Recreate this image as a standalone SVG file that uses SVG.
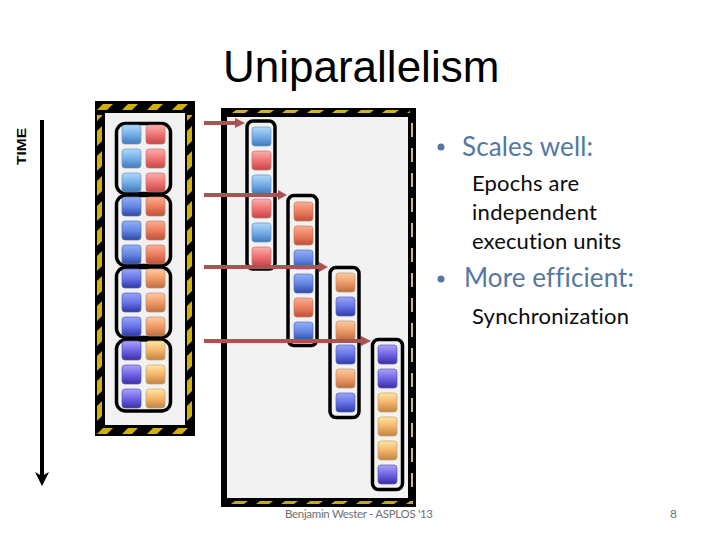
<svg xmlns="http://www.w3.org/2000/svg" width="720" height="540" viewBox="0 0 720 540">
<style>
.t{font-family:Lato,"Open Sans","Liberation Sans",sans-serif;font-variant-ligatures:none}
.l{font-family:"Liberation Sans",Arial,sans-serif}
.b{fill:#54789f;font-size:26px}
.s{fill:#0a0a0a;font-size:22px}
.g{fill:none;stroke:#000;stroke-width:3.500}
.q{stroke-width:.7}
.a{stroke:#ab5252;stroke-width:4;fill:none}
.h{fill:#ab5252}
.b1{fill:url(#b1);stroke:#6a97c6}.b2{fill:url(#b2);stroke:#5470c0}.b3{fill:url(#b3);stroke:#5460c0}.b4{fill:url(#b4);stroke:#5f52b8}
.r1{fill:url(#r1);stroke:#c87070}.r2{fill:url(#r2);stroke:#c87c64}.r3{fill:url(#r3);stroke:#c88c64}.r4{fill:url(#r4);stroke:#c8a064}
</style>
<defs>
<linearGradient id="b1" x2="0" y2="1"><stop offset="0" stop-color="#b0d8f8"/><stop offset=".5" stop-color="#75ade6"/><stop offset="1" stop-color="#4478bc"/></linearGradient>
<linearGradient id="b2" x2="0" y2="1"><stop offset="0" stop-color="#94b0f2"/><stop offset=".5" stop-color="#6487e2"/><stop offset="1" stop-color="#3049a8"/></linearGradient>
<linearGradient id="b3" x2="0" y2="1"><stop offset="0" stop-color="#98a4f6"/><stop offset=".5" stop-color="#6674e8"/><stop offset="1" stop-color="#3038a8"/></linearGradient>
<linearGradient id="b4" x2="0" y2="1"><stop offset="0" stop-color="#aaa4f6"/><stop offset=".5" stop-color="#7064e6"/><stop offset="1" stop-color="#3a2ea6"/></linearGradient>
<linearGradient id="r1" x2="0" y2="1"><stop offset="0" stop-color="#f9b0b0"/><stop offset=".5" stop-color="#f37272"/><stop offset="1" stop-color="#c24848"/></linearGradient>
<linearGradient id="r2" x2="0" y2="1"><stop offset="0" stop-color="#f9b098"/><stop offset=".5" stop-color="#ed7c5c"/><stop offset="1" stop-color="#bc5238"/></linearGradient>
<linearGradient id="r3" x2="0" y2="1"><stop offset="0" stop-color="#fbcca8"/><stop offset=".5" stop-color="#f09a68"/><stop offset="1" stop-color="#bc6e3e"/></linearGradient>
<linearGradient id="r4" x2="0" y2="1"><stop offset="0" stop-color="#fee8a4"/><stop offset=".5" stop-color="#f6b26a"/><stop offset="1" stop-color="#c08642"/></linearGradient>
<pattern id="h1" width="25" height="6" patternUnits="userSpaceOnUse" x="97" y="104"><polygon points="0,6 6,0 16,0 10,6" fill="#d0b010"/></pattern>
<pattern id="v1" width="5" height="25" patternUnits="userSpaceOnUse" x="97" y="101"><polygon points="0,5 5,0 5,15 0,20" fill="#d0b010"/><polygon points="0,30 5,25 5,40 0,45" fill="#d0b010"/></pattern>
<pattern id="h2" width="25" height="3" patternUnits="userSpaceOnUse" x="232" y="110"><polygon points="0,3 4,0 17,0 13,3" fill="#d0b420"/></pattern>
<pattern id="h3" width="25" height="3" patternUnits="userSpaceOnUse" x="231" y="501"><polygon points="0,3 4,0 17,0 13,3" fill="#c4a72a"/></pattern>
<pattern id="v2" width="2" height="25" patternUnits="userSpaceOnUse" x="411" y="123"><rect width="2" height="14" fill="#cdbb7a"/></pattern>
<rect id="sq" width="19" height="19" rx="3"/>
</defs>

<text class="l" x="223" y="82" font-size="44" fill="#000">Uniparallelism</text>
<text class="l" transform="translate(26 165) rotate(-90)" font-size="13.500" font-weight="bold" fill="#000" textLength="37" lengthAdjust="spacingAndGlyphs">TIME</text>

<g id="frame-left">
<rect x="95" y="101" width="100" height="335" fill="#000"/>
<rect x="105" y="113" width="80" height="312" fill="#f2f2f2"/>
<rect x="97" y="104" width="96" height="6" fill="url(#h1)"/>
<rect x="97" y="428" width="96" height="6" fill="url(#h1)"/>
<rect x="97" y="115" width="5" height="308" fill="url(#v1)"/>
<rect x="187" y="115" width="5" height="308" fill="url(#v1)"/>
</g>
<g id="group-left">
<rect class="g" x="116.500" y="123.500" width="54" height="70" rx="9"/>
<rect class="g" x="116.500" y="195.500" width="54" height="70" rx="9"/>
<rect class="g" x="116.500" y="267.500" width="54" height="70" rx="9"/>
<rect class="g" x="116.500" y="340" width="54" height="71" rx="9"/>
<use href="#sq" x="122" y="125" class="b1 q"/><use href="#sq" x="146" y="125" class="r1 q"/>
<use href="#sq" x="122" y="149" class="b1 q"/><use href="#sq" x="146" y="149" class="r1 q"/>
<use href="#sq" x="122" y="173" class="b1 q"/><use href="#sq" x="146" y="173" class="r1 q"/>
<use href="#sq" x="122" y="197" class="b2 q"/><use href="#sq" x="146" y="197" class="r2 q"/>
<use href="#sq" x="122" y="221" class="b2 q"/><use href="#sq" x="146" y="221" class="r2 q"/>
<use href="#sq" x="122" y="245" class="b2 q"/><use href="#sq" x="146" y="245" class="r2 q"/>
<use href="#sq" x="122" y="269" class="b3 q"/><use href="#sq" x="146" y="269" class="r3 q"/>
<use href="#sq" x="122" y="293" class="b3 q"/><use href="#sq" x="146" y="293" class="r3 q"/>
<use href="#sq" x="122" y="317" class="b3 q"/><use href="#sq" x="146" y="317" class="r3 q"/>
<use href="#sq" x="122" y="341" class="b4 q"/><use href="#sq" x="146" y="341" class="r4 q"/>
<use href="#sq" x="122" y="365" class="b4 q"/><use href="#sq" x="146" y="365" class="r4 q"/>
<use href="#sq" x="122" y="389" class="b4 q"/><use href="#sq" x="146" y="389" class="r4 q"/>
</g>

<g id="frame-right">
<rect x="221" y="108" width="195" height="399" fill="#000"/>
<rect x="227" y="117" width="181" height="381" fill="#f2f2f2"/>
<rect x="232" y="110" width="178" height="3" fill="url(#h2)"/>
<rect x="231" y="501" width="182" height="3" fill="url(#h3)"/>
<rect x="411" y="123" width="2" height="373" fill="url(#v2)"/>
</g>
<g id="epoch-1">
<rect class="g" x="247" y="121" width="28" height="148" rx="6"/>
<use href="#sq" x="252" y="127" class="b1 q"/><use href="#sq" x="252" y="151" class="r1 q"/><use href="#sq" x="252" y="175" class="b1 q"/><use href="#sq" x="252" y="199" class="r1 q"/><use href="#sq" x="252" y="223" class="b1 q"/><use href="#sq" x="252" y="247" class="r1 q"/>
</g>
<g id="epoch-2">
<rect class="g" x="288" y="195.500" width="29" height="150" rx="6"/>
<use href="#sq" x="294" y="202" class="r2 q"/><use href="#sq" x="294" y="226" class="r2 q"/><use href="#sq" x="294" y="250" class="b2 q"/><use href="#sq" x="294" y="274" class="b2 q"/><use href="#sq" x="294" y="298" class="r2 q"/><use href="#sq" x="294" y="322" class="b2 q"/>
</g>
<g id="epoch-3">
<rect class="g" x="330" y="267.500" width="29" height="150" rx="6"/>
<use href="#sq" x="336" y="273" class="r3 q"/><use href="#sq" x="336" y="297" class="b3 q"/><use href="#sq" x="336" y="321" class="r3 q"/><use href="#sq" x="336" y="345" class="b3 q"/><use href="#sq" x="336" y="369" class="r3 q"/><use href="#sq" x="336" y="393" class="b3 q"/>
</g>
<g id="epoch-4">
<rect class="g" x="372.500" y="339.500" width="30" height="150" rx="6"/>
<use href="#sq" x="378" y="345" class="b4 q"/><use href="#sq" x="378" y="369" class="b4 q"/><use href="#sq" x="378" y="393" class="r4 q"/><use href="#sq" x="378" y="417" class="r4 q"/><use href="#sq" x="378" y="441" class="r4 q"/><use href="#sq" x="378" y="465" class="b4 q"/>
</g>

<g id="connectors">
<path class="a" d="M204 123H236"/><polygon class="h" points="235,118 245,123 235,128"/>
<path class="a" d="M204 195H278"/><polygon class="h" points="278,190 287,195 278,200"/>
<path class="a" d="M204 267H320"/><polygon class="h" points="319,262 328,267 319,272"/>
<path class="a" d="M204 341H362"/><polygon class="h" points="361,336 371,341 361,346"/>
<path d="M42 120V476" stroke="#000" stroke-width="4" fill="none"/>
<polygon points="35,472 42,486 49,472 42,476" fill="#000"/>
</g>

<g id="bullets">
<circle cx="441" cy="147" r="3.500" fill="#54789f"/><text class="t b" x="462" y="156" textLength="131">Scales well:</text>
<text class="t s" x="472" y="191" textLength="107">Epochs are</text>
<text class="t s" x="472" y="220" textLength="125">independent</text>
<text class="t s" x="472" y="249" textLength="149">execution units</text>
<circle cx="441" cy="279" r="3.500" fill="#54789f"/><text class="t b" x="464" y="287" textLength="170">More efficient:</text>
<text class="t s" x="472" y="324" textLength="157">Synchronization</text>
</g>
<text class="t" x="285" y="518" font-size="11.500" fill="#6f6f6f" textLength="148">Benjamin Wester - ASPLOS '13</text>
<text class="t" x="670" y="518" font-size="12" fill="#6f6f6f">8</text>
</svg>
